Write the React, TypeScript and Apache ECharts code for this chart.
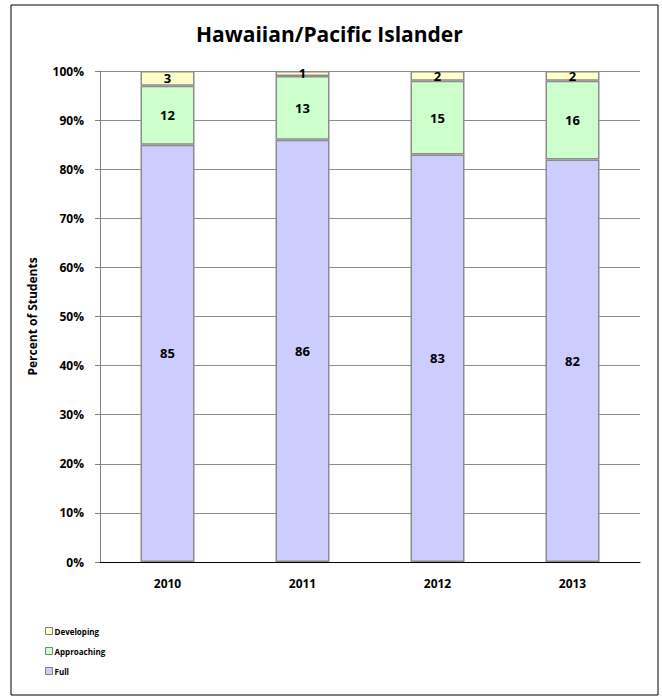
import React, { useEffect, useRef } from "react";
import * as echarts from "echarts";

const years = ["2010", "2011", "2012", "2013"];
const full = [85, 86, 83, 82];
const approaching = [12, 13, 15, 16];
const developing = [3, 1, 2, 2];

const FONT = "'Open Sans', 'Noto Sans', Arial, sans-serif";

export default function App() {
  const ref = useRef<HTMLDivElement>(null);
  useEffect(() => {
    if (!ref.current) return;
    const chart = echarts.init(ref.current, null, { renderer: "svg" });
    const label = {
      show: true,
      position: "inside",
      color: "#000",
      fontWeight: "bold",
      fontSize: 13,
      fontFamily: FONT,
    };
    const mk = (name: string, data: number[], color: string) => ({
      name,
      type: "bar",
      stack: "s",
      data,
      barWidth: "40%",
      itemStyle: { color, borderColor: "#8c8c8c", borderWidth: 1.5 },
      label,
    });
    chart.setOption({
      animation: false,
      backgroundColor: "#fff",
      title: {
        text: "Hawaiian/Pacific Islander",
        left: 191,
        top: 18,
        textStyle: { fontSize: 21, fontWeight: "bold", color: "#000", fontFamily: FONT },
      },
      graphic: [
        {
          type: "rect",
          shape: { x: 11, y: 5, width: 647, height: 690 },
          style: { fill: "none", stroke: "#000", lineWidth: 1 },
          silent: true,
        },
      ],
      legend: {
        orient: "vertical",
        left: 40,
        top: 622,
        itemGap: 12,
        itemWidth: 7,
        itemHeight: 7,
        icon: "rect",
        data: ["Developing", "Approaching", "Full"],
        textStyle: { fontSize: 8, fontWeight: "bold", color: "#000", fontFamily: FONT, padding: [0, 0, 0, -3] },
        itemStyle: { borderColor: "#808080", borderWidth: 1 },
      },
      grid: { left: 100, right: 22, top: 71, bottom: 134 },
      xAxis: {
        type: "category",
        data: years,
        axisLine: { lineStyle: { color: "#000", width: 1 } },
        axisTick: { show: false },
        axisLabel: { color: "#000", fontWeight: "bold", fontSize: 12, fontFamily: FONT, margin: 15 },
      },
      yAxis: {
        type: "value",
        min: 0,
        max: 100,
        interval: 10,
        name: "Percent of Students",
        nameLocation: "middle",
        nameGap: 62,
        nameTextStyle: { fontSize: 12, fontWeight: "bold", color: "#000", fontFamily: FONT },
        axisLine: { show: true, lineStyle: { color: "#808080", width: 1 } },
        axisTick: { show: true, length: 5, lineStyle: { color: "#808080" } },
        axisLabel: { formatter: "{value}%", color: "#000", fontWeight: "bold", fontSize: 12, fontFamily: FONT, margin: 16 },
        splitLine: { lineStyle: { color: "#8c8c8c", width: 1 } },
      },
      series: [
        mk("Full", full, "#CCCCFF"),
        mk("Approaching", approaching, "#CCFFCC"),
        mk("Developing", developing, "#FFFFCC"),
      ],
    });
    return () => chart.dispose();
  }, []);
  return <div ref={ref} style={{ width: 662, height: 696, position: "absolute", left: 0, top: 0 }} />;
}
